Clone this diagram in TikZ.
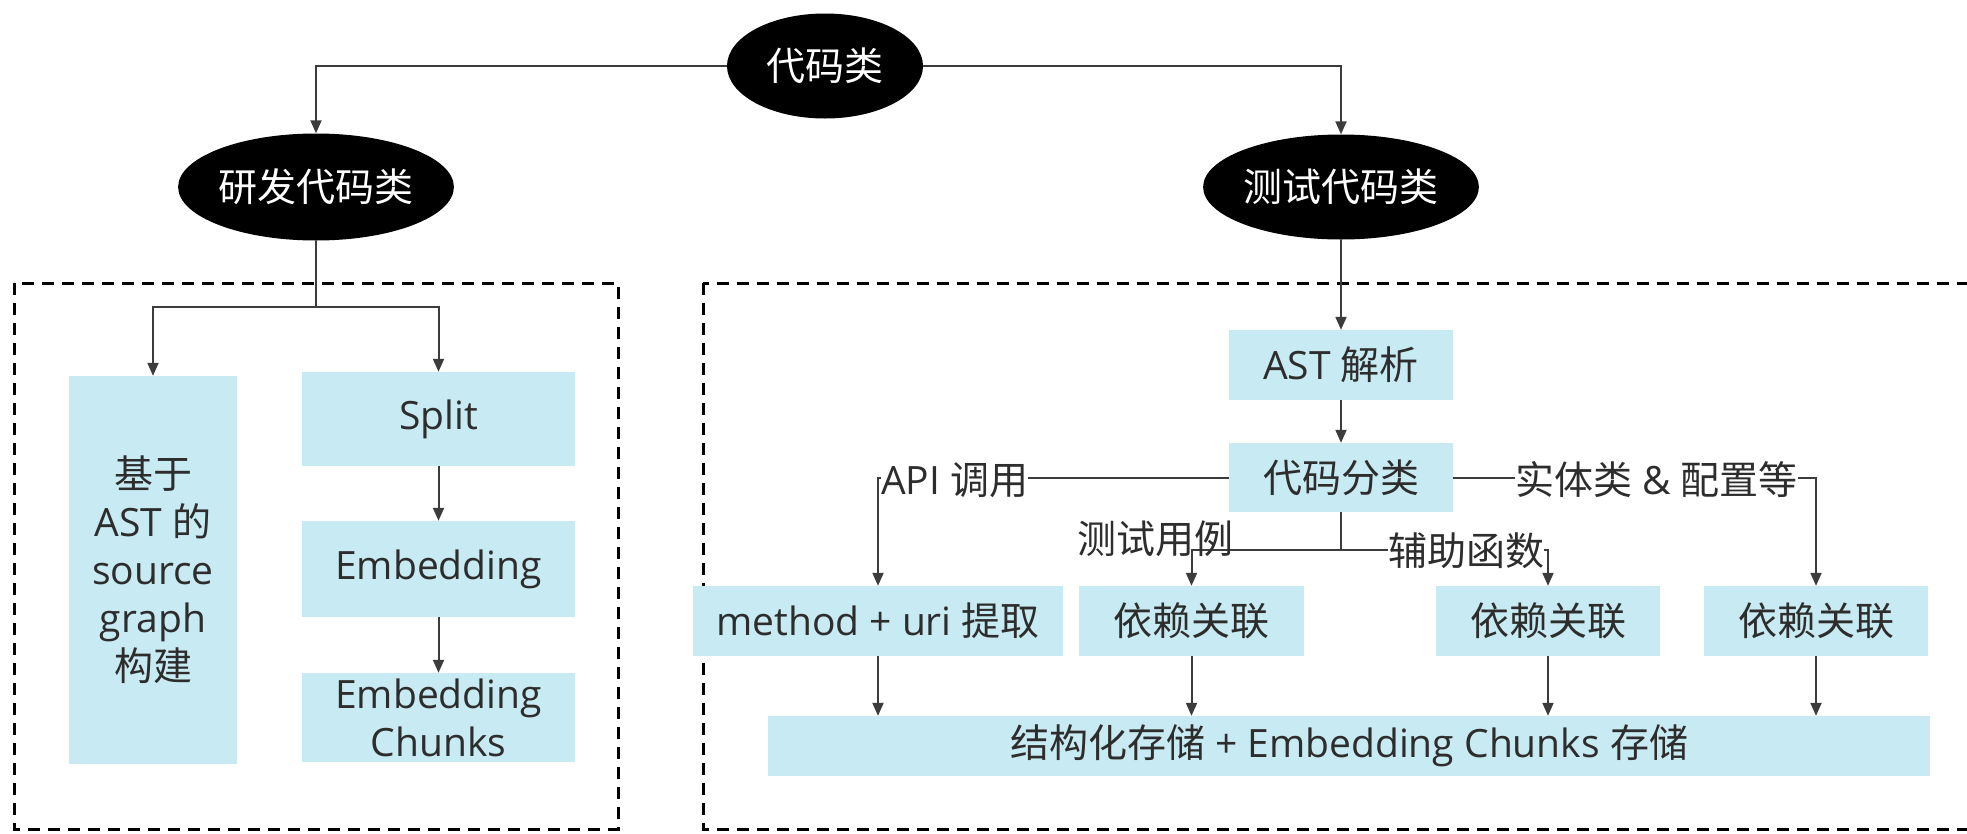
\documentclass[tikz,border=0pt]{standalone}
\usepackage{fontspec}
\setmainfont{Open Sans}
\newfontfamily\cjk{Noto Sans CJK SC}
\usetikzlibrary{shapes.geometric,arrows.meta}
\definecolor{boxblue}{RGB}{200,234,243}
\definecolor{txt}{RGB}{45,45,45}
\definecolor{linec}{RGB}{60,60,60}
\begin{document}
\begin{tikzpicture}[x=1pt,y=-1pt,
  box/.style={fill=boxblue,text=txt,inner sep=0pt,align=center,font=\fontsize{39pt}{48pt}\selectfont},
  ell/.style={ellipse,fill=black,text=white,inner sep=0pt,font=\fontsize{39pt}{48pt}\selectfont\cjk},
  conn/.style={draw=linec,line width=2pt,-{Triangle[length=13pt,width=11pt]}},
  plainline/.style={draw=linec,line width=2pt},
  lbl/.style={text=txt,inner sep=0pt,font=\fontsize{39pt}{48pt}\selectfont},
  frame/.style={draw=black,line width=3pt,dash pattern=on 12pt off 8pt}
]
\useasboundingbox (0,0) rectangle (1967,833);
\clip (0,0) rectangle (1967,833);
\fill[white] (0,0) rectangle (1967,833);

% frames
\draw[frame] (14,283) rectangle (618,829);
\draw[frame] (703,283) rectangle (2000,829);

% ellipses
\node[ell,minimum width=196pt,minimum height=105pt] (root) at (825,66) {代码类};
\node[ell,minimum width=233pt,minimum height=107pt] (dev) at (316,187) {研发代码类};
\node[ell,minimum width=226pt,minimum height=105pt] (test) at (1341,187) {测试代码类};

% left boxes
\node[box,minimum width=168pt,minimum height=388pt] (astg) at (153,570) {{\cjk 基于}\\AST {\cjk 的}\\source\\graph\\{\cjk 构建}};
\node[box,minimum width=273pt,minimum height=94pt] (split) at (438.5,419) {Split};
\node[box,minimum width=273pt,minimum height=96pt] (emb) at (438.5,569) {Embedding};
\node[box,minimum width=273pt,minimum height=89pt] (chunks) at (438.5,717.5) {Embedding\\Chunks};

% right boxes
\node[box,minimum width=224pt,minimum height=70pt] (parse) at (1341,365) {AST {\cjk 解析}};
\node[box,minimum width=224pt,minimum height=69pt] (classify) at (1341,477.5) {\cjk 代码分类};
\node[box,minimum width=370pt,minimum height=70pt] (method) at (878,621) {method + uri {\cjk 提取}};
\node[box,minimum width=225pt,minimum height=70pt] (dep1) at (1191.5,621) {\cjk 依赖关联};
\node[box,minimum width=224pt,minimum height=70pt] (dep2) at (1548,621) {\cjk 依赖关联};
\node[box,minimum width=224pt,minimum height=70pt] (dep3) at (1816,621) {\cjk 依赖关联};
\node[box,minimum width=1162pt,minimum height=60pt] (store) at (1349,746) {{\cjk 结构化存储} + Embedding Chunks {\cjk 存储}};

% top connectors
\draw[conn] (root.west) -| (dev.north);
\draw[conn] (root.east) -| (test.north);

% left side
\coordinate (devj) at (316,307);
\draw[plainline] (dev.south) -- (devj);
\draw[conn] (devj) -| (astg.north);
\draw[conn] (devj) -| (split.north);
\draw[conn] (split.south) -- (emb.north);
\draw[conn] (emb.south) -- (chunks.north);

% right side
\draw[conn] (test.south) -- (parse.north);
\draw[conn] (parse.south) -- (classify.north);
\draw[conn] (classify.west) -| (method.north);
\draw[conn] (classify.east) -| (dep3.north);
\coordinate (clj) at (1341,550);
\draw[plainline] (classify.south) -- (clj);
\draw[conn] (clj) -| (dep1.north);
\draw[conn] (clj) -| (dep2.north);

\draw[conn] (method.south) -- (method.south |- store.north);
\draw[conn] (dep1.south) -- (dep1.south |- store.north);
\draw[conn] (dep2.south) -- (dep2.south |- store.north);
\draw[conn] (dep3.south) -- (dep3.south |- store.north);

% labels
\node[lbl,fill=white,anchor=west] (lapi) at (881,480) {API {\cjk 调用}};
\node[lbl,fill=white,anchor=west] (lent) at (1515,480) {{\cjk 实体类} \& {\cjk 配置等}};
\node[lbl] (ltest) at (1155,539) {\cjk 测试用例};
\node[lbl,fill=white] (lhelp) at (1466,551) {\cjk 辅助函数};
\end{tikzpicture}
\end{document}
